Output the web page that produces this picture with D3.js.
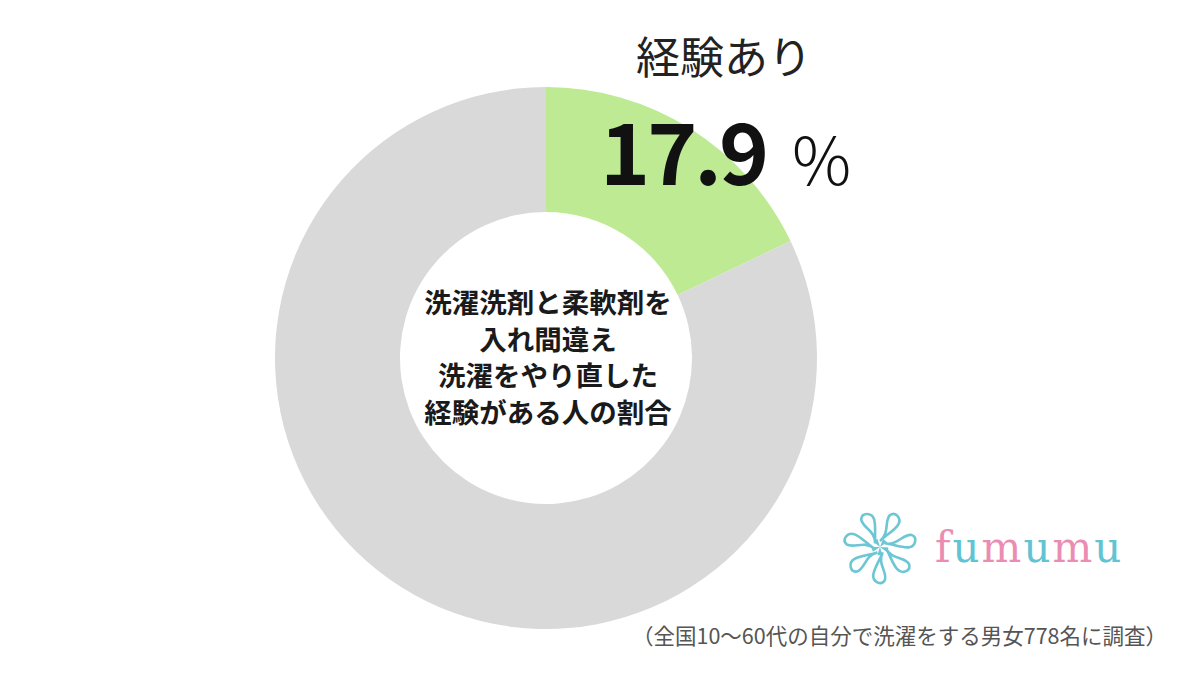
<!DOCTYPE html>
<html>
<head>
<meta charset="utf-8">
<script src="https://cdn.jsdelivr.net/npm/d3@7"></script>
<style>
  body { margin: 0; background: #fff; }
  svg { display: block; font-family: "Noto Sans CJK JP", "Noto Sans", sans-serif; }
</style>
</head>
<body>
<svg id="chart" width="1200" height="680"></svg>
<script>
// data
const categories = ["経験あり", "経験なし"];
const values = [17.9, 82.1];
const colors = ["#bdea93", "#d9d9d9"];
const centerLines = ["洗濯洗剤と柔軟剤を", "入れ間違え", "洗濯をやり直した", "経験がある人の割合"];
const note = "（全国10〜60代の自分で洗濯をする男女778名に調査）";
const brand = ["f", "u", "m", "u", "m", "u"];

const svg = d3.select("#chart");
const cx = 546, cy = 358;
const outerR = 271, innerR = 146;

const pie = d3.pie().sort(null).value(d => d);
const arc = d3.arc().innerRadius(innerR).outerRadius(outerR);

const donut = svg.append("g").attr("transform", `translate(${cx},${cy})`);
donut.selectAll("path")
    .data(pie(values))
    .join("path")
    .attr("d", arc)
    .attr("fill", (d, i) => colors[i]);

// center text
donut.append("text")
    .attr("text-anchor", "middle")
    .attr("font-size", 27.5)
    .attr("font-weight", "bold")
    .attr("fill", "#1a1a1a")
    .selectAll("tspan")
    .data(centerLines)
    .join("tspan")
    .attr("x", 2)
    .attr("y", (d, i) => -45 + i * 36.5)
    .text(d => d);

// label of first slice
svg.append("text")
    .attr("x", 724).attr("y", 74)
    .attr("text-anchor", "middle")
    .attr("font-size", 44)
    .attr("fill", "#222")
    .text(categories[0]);

const pct = svg.append("text")
    .attr("x", 600).attr("y", 185)
    .attr("fill", "#111");
pct.append("tspan")
    .attr("font-size", 85)
    .attr("font-weight", "bold")
    .attr("letter-spacing", -3)
    .text(values[0].toFixed(1));
pct.append("tspan")
    .attr("dx", 26)
    .attr("font-size", 66)
    .attr("font-weight", 300)
    .text("%");

// footnote
svg.append("text")
    .attr("x", 1167).attr("y", 644)
    .attr("text-anchor", "end")
    .attr("font-size", 21.5)
    .attr("fill", "#555")
    .text(note);

// fumumu logo
const logo = svg.append("g").attr("transform", "translate(880,547)");
const petal = "M0,-6 C10,-14 4,-26 10,-32 C16,-36 22,-28 18,-22 C14,-16 6,-12 0,-6 Z";
logo.selectAll("path.petal")
    .data(d3.range(7))
    .join("path")
    .attr("class", "petal")
    .attr("d", petal)
    .attr("transform", d => `rotate(${d * 360 / 7})`)
    .attr("fill", "none")
    .attr("stroke", "#6cc6d4")
    .attr("stroke-width", 2.6);
logo.selectAll("path.core")
    .data(d3.range(5))
    .join("path")
    .attr("class", "core")
    .attr("d", "M0,0 L3,-8 L7,-5 Z")
    .attr("transform", d => `rotate(${d * 72})`)
    .attr("fill", "#6cc6d4");

svg.append("text")
    .attr("x", 935).attr("y", 562)
    .attr("font-family", "'DejaVu Serif', 'Liberation Serif', serif")
    .attr("font-size", 42)
    .attr("letter-spacing", 2)
    .selectAll("tspan")
    .data(brand)
    .join("tspan")
    .attr("fill", d => d === "u" ? "#62c3d2" : "#eb8db3")
    .text(d => d);
</script>
</body>
</html>
